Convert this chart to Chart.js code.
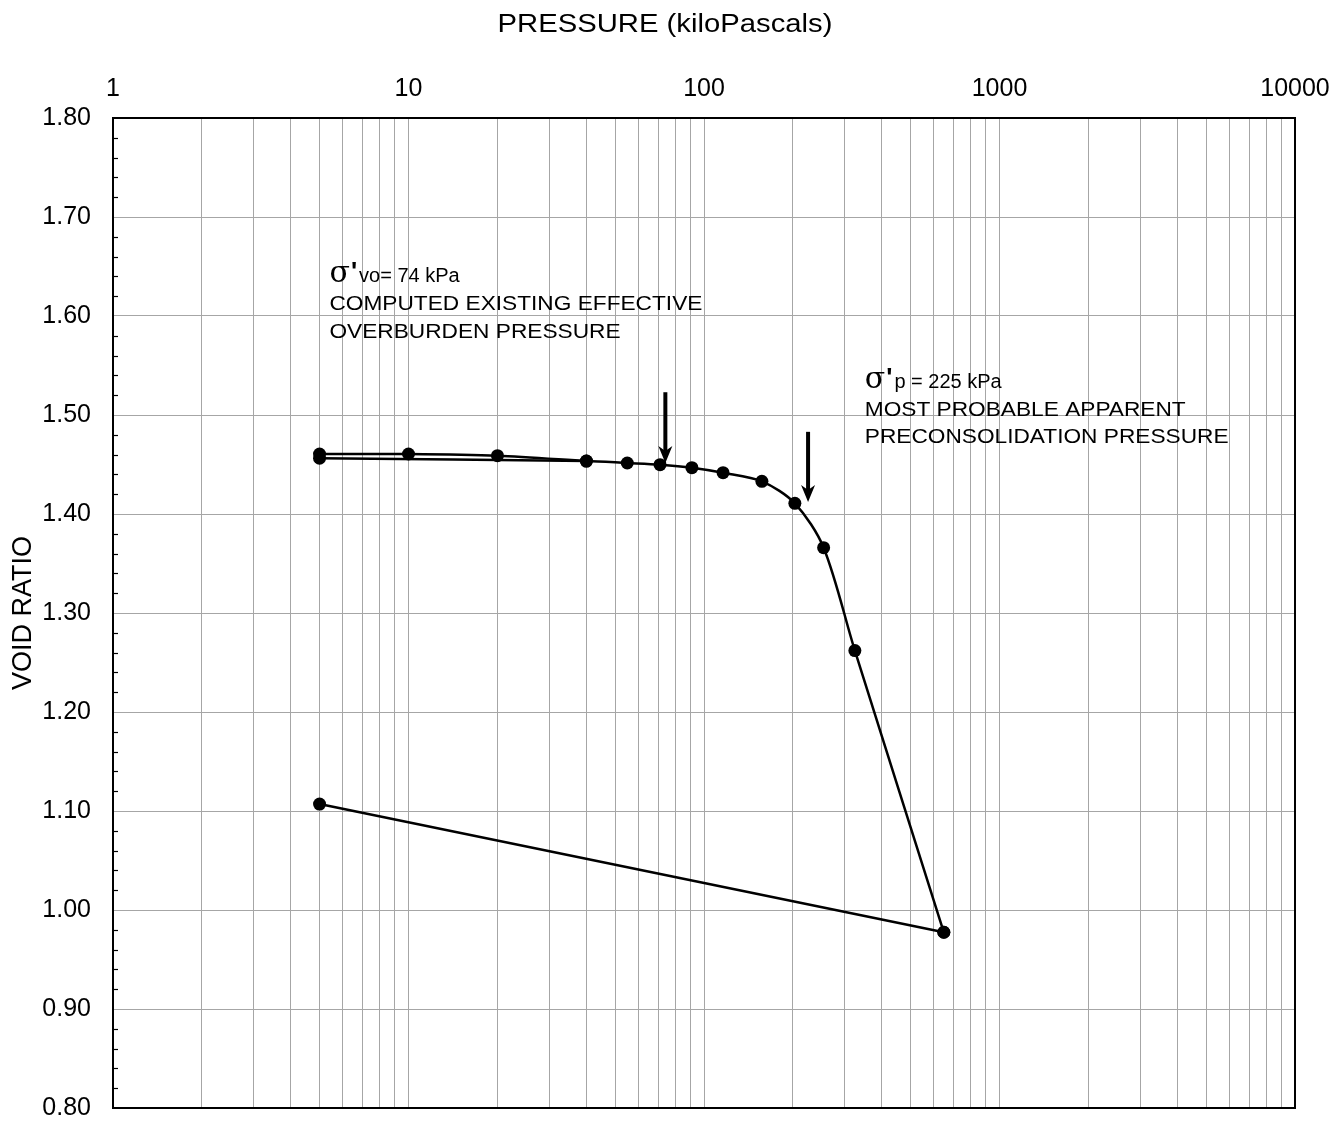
<!DOCTYPE html>
<html lang="en">
    <head>
        <meta charset="UTF-8">
        <title>Void ratio vs pressure</title>
        <script src="https://cdn.jsdelivr.net/npm/chart.js"></script>
        <style>
            html, body { margin: 0; padding: 0; background: #fff; }
            #box { width: 1330px; height: 1121px; }
        </style>
    </head>
    <body>
        <div id="box">
            <canvas id="grafico" width="1330" height="1121"></canvas>
        </div>
    </body>
</html>

<script>
    // first loading (kPa / void ratio)
    const loadPressure = [5, 10, 20, 40];
    const loadVoid = [1.4606, 1.4606, 1.4589, 1.4535];

    // reload and virgin curve
    const reloadPressure = [5, 40, 55, 71, 91, 116, 157, 203, 254, 324, 648];
    const reloadVoid = [1.4563, 1.4535, 1.4515, 1.4498, 1.4468, 1.4417, 1.4330, 1.4108, 1.3660, 1.2620, 0.9775];

    // final unloading
    const unloadPressure = [648, 5];
    const unloadVoid = [0.9775, 1.1070];

    // axis labels
    const xTickLabels = [1, 10, 100, 1000, 10000];
    const yMin = 0.8, yMax = 1.8, yStep = 0.02, yLabelStep = 0.1;

    // arrows: pressure, void ratio at tip, void ratio at tail
    const arrowPressure = [74, 225];
    const arrowTip = [1.4515, 1.412];
    const arrowTail = [1.523, 1.483];

    // vertical grid lines 1..9 per decade
    const xGrid = [];
    for (const d of [1, 10, 100, 1000]) {
        for (let m = 1; m <= 9; m++) xGrid.push(m * d);
    }
    xGrid.push(10000);

    const pares = (xs, ys) => xs.map((x, i) => ({x: x, y: ys[i]}));
    const eMaior = v => Math.abs(v / yLabelStep - Math.round(v / yLabelStep)) < 1e-6;
    const fonte = '"Liberation Sans", Arial, sans-serif';
    const cinza = '#a6a6a6';

    function serie(dados, tensao) {
        return {
            data: dados,
            showLine: true,
            borderColor: '#000',
            backgroundColor: '#000',
            borderWidth: 2.5,
            pointRadius: 6.5,
            pointBorderWidth: 0,
            pointBackgroundColor: '#000',
            tension: tensao
        };
    }

    // texto com sigma e as linhas das notas
    function nota(ctx, x, y0, indice, valor, linhas) {
        ctx.save();
        ctx.fillStyle = '#000';
        ctx.textBaseline = 'alphabetic';
        ctx.textAlign = 'left';
        ctx.font = '30px "DejaVu Serif", serif';
        ctx.fillText('σ', x, y0);
        let w = ctx.measureText('σ').width;
        ctx.font = 'bold 26px ' + fonte;
        ctx.fillText("'", x + w + 1, y0 - 2);
        w += ctx.measureText("'").width + 3;
        ctx.font = '20px ' + fonte;
        ctx.fillText(indice + valor, x + w, y0);
        ctx.font = '21px ' + fonte;
        linhas.forEach((t, i) => {
            ctx.save();
            ctx.translate(x, y0 + 28 + 27.5 * i);
            ctx.scale(1.08, 1);
            ctx.fillText(t, 0, 0);
            ctx.restore();
        });
        ctx.restore();
    }

    function seta(ctx, px, yTop, yTip) {
        ctx.save();
        ctx.strokeStyle = '#000';
        ctx.fillStyle = '#000';
        ctx.lineWidth = 4;
        ctx.beginPath();
        ctx.moveTo(px, yTop);
        ctx.lineTo(px, yTip - 12);
        ctx.stroke();
        ctx.beginPath();
        ctx.moveTo(px, yTip);
        ctx.lineTo(px - 7, yTip - 17);
        ctx.lineTo(px, yTip - 12);
        ctx.lineTo(px + 7, yTip - 17);
        ctx.closePath();
        ctx.fill();
        ctx.restore();
    }

    const extras = {
        id: 'extras',
        afterDraw(chart) {
            const ctx = chart.ctx;
            const a = chart.chartArea;
            const sx = chart.scales.x, sy = chart.scales.y;

            // marcas menores do eixo Y, para dentro
            ctx.save();
            ctx.strokeStyle = '#000';
            ctx.lineWidth = 1.2;
            sy.ticks.forEach(t => {
                if (eMaior(t.value)) return;
                const py = Math.round(sy.getPixelForValue(t.value)) + 0.5;
                ctx.beginPath();
                ctx.moveTo(a.left, py);
                ctx.lineTo(a.left + 5, py);
                ctx.stroke();
            });
            ctx.restore();

            // moldura
            ctx.save();
            ctx.strokeStyle = '#000';
            ctx.lineWidth = 2;
            ctx.strokeRect(a.left, a.top, a.right - a.left, a.bottom - a.top);
            ctx.restore();

            // titulo do eixo X (um pouco deslocado para a esquerda, como no original)
            ctx.save();
            ctx.fillStyle = '#000';
            ctx.font = '25px ' + fonte;
            ctx.textAlign = 'center';
            ctx.textBaseline = 'middle';
            ctx.translate(a.left + (a.right - a.left) * 0.467, 25);
            ctx.scale(1.17, 1);
            ctx.fillText('PRESSURE (kiloPascals)', 0, 0);
            ctx.restore();

            // setas
            arrowPressure.forEach((p, i) => {
                seta(ctx, sx.getPixelForValue(p), sy.getPixelForValue(arrowTail[i]), sy.getPixelForValue(arrowTip[i]));
            });

            // notas
            nota(ctx, sx.getPixelForValue(5.4), sy.getPixelForValue(1.6343), 'vo', '= 74 kPa',
                ['COMPUTED EXISTING EFFECTIVE', 'OVERBURDEN PRESSURE']);
            nota(ctx, sx.getPixelForValue(350), sy.getPixelForValue(1.5273), 'p', ' = 225 kPa',
                ['MOST PROBABLE APPARENT', 'PRECONSOLIDATION PRESSURE']);
        }
    };

    const ctxGrafico = document.getElementById('grafico').getContext('2d');
    const grafico = new Chart(ctxGrafico, {
        type: 'scatter',
        data: {
            datasets: [
                serie(pares(loadPressure, loadVoid), 0.3),
                serie(pares(reloadPressure, reloadVoid), 0.3),
                serie(pares(unloadPressure, unloadVoid), 0)
            ]
        },
        options: {
            responsive: false,
            animation: false,
            devicePixelRatio: 1,
            layout: { padding: { left: 0, right: 35, top: 0, bottom: 13 } },
            plugins: {
                legend: { display: false },
                tooltip: { enabled: false }
            },
            scales: {
                x: {
                    type: 'logarithmic',
                    position: 'top',
                    min: 1,
                    max: 10000,
                    afterBuildTicks: s => { s.ticks = xGrid.map(v => ({value: v})); },
                    afterFit: s => { s.height = 118; s.paddingLeft = 0; s.paddingRight = 0; },
                    ticks: {
                        autoSkip: false,
                        maxRotation: 0,
                        padding: 14,
                        color: '#000',
                        font: { family: fonte, size: 25 },
                        callback: v => xTickLabels.includes(v) ? String(v) : ''
                    },
                    grid: { color: cinza, lineWidth: 1, drawTicks: false },
                    border: { display: false },
                    title: { display: false }
                },
                y: {
                    type: 'linear',
                    min: yMin,
                    max: yMax,
                    afterFit: s => { s.width = 113; s.paddingTop = 0; s.paddingBottom = 0; },
                    ticks: {
                        stepSize: yStep,
                        autoSkip: false,
                        padding: 22,
                        color: '#000',
                        font: { family: fonte, size: 25 },
                        callback: v => eMaior(v) ? v.toFixed(2) : ''
                    },
                    grid: {
                        color: c => (c.tick && eMaior(c.tick.value)) ? cinza : 'rgba(0,0,0,0)',
                        lineWidth: 1,
                        drawTicks: false
                    },
                    border: { display: false },
                    title: {
                        display: true,
                        text: 'VOID RATIO',
                        color: '#000',
                        font: { family: fonte, size: 27 },
                        padding: { top: 7, bottom: 0 }
                    }
                }
            }
        },
        plugins: [extras]
    });
</script>
